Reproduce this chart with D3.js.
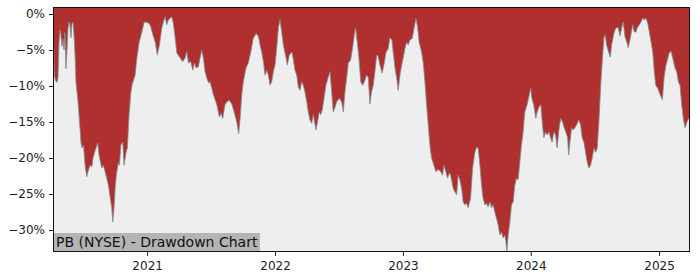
<!DOCTYPE html>
<html>
<head>
<meta charset="utf-8">
<script src="https://cdn.jsdelivr.net/npm/d3@7"></script>
<style>
  body { margin: 0; background: #fff; }
  svg { display: block; font-family: "DejaVu Sans", sans-serif; }
</style>
</head>
<body>
<div id="chart"></div>
<script>
// dates as decimal years, values as drawdown in percent
const years = [
  2020.266, 2020.277, 2020.285, 2020.297, 2020.305, 2020.313, 2020.320, 2020.328, 2020.336, 2020.344,
  2020.352, 2020.359, 2020.367, 2020.375, 2020.383, 2020.391, 2020.398, 2020.406, 2020.414, 2020.422,
  2020.430, 2020.438, 2020.445, 2020.461, 2020.477, 2020.484, 2020.492, 2020.504, 2020.516, 2020.529,
  2020.539, 2020.555, 2020.570, 2020.578, 2020.594, 2020.615, 2020.625, 2020.646, 2020.659, 2020.672,
  2020.685, 2020.698, 2020.711, 2020.724, 2020.732, 2020.742, 2020.752, 2020.763, 2020.776, 2020.784,
  2020.795, 2020.810, 2020.820, 2020.836, 2020.846, 2020.859, 2020.873, 2020.883, 2020.906, 2020.920,
  2020.938, 2020.959, 2020.977, 2021.000, 2021.016, 2021.029, 2021.045, 2021.063, 2021.080, 2021.096,
  2021.115, 2021.127, 2021.141, 2021.154, 2021.166, 2021.180, 2021.193, 2021.205, 2021.219, 2021.232,
  2021.258, 2021.279, 2021.297, 2021.310, 2021.323, 2021.341, 2021.357, 2021.370, 2021.383, 2021.401,
  2021.414, 2021.427, 2021.440, 2021.453, 2021.466, 2021.482, 2021.492, 2021.518, 2021.545, 2021.565,
  2021.578, 2021.591, 2021.609, 2021.623, 2021.643, 2021.662, 2021.680, 2021.701, 2021.716, 2021.727,
  2021.740, 2021.752, 2021.773, 2021.791, 2021.810, 2021.830, 2021.852, 2021.870, 2021.883, 2021.896,
  2021.909, 2021.922, 2021.935, 2021.948, 2021.961, 2021.974, 2021.987, 2022.000, 2022.013, 2022.026,
  2022.039, 2022.052, 2022.065, 2022.086, 2022.096, 2022.112, 2022.133, 2022.141, 2022.156, 2022.170,
  2022.182, 2022.195, 2022.209, 2022.221, 2022.234, 2022.248, 2022.260, 2022.273, 2022.287, 2022.299,
  2022.313, 2022.320, 2022.330, 2022.346, 2022.357, 2022.370, 2022.383, 2022.398, 2022.416, 2022.430,
  2022.443, 2022.455, 2022.469, 2022.482, 2022.502, 2022.521, 2022.534, 2022.547, 2022.560, 2022.573,
  2022.591, 2022.607, 2022.620, 2022.630, 2022.643, 2022.656, 2022.670, 2022.685, 2022.703, 2022.716,
  2022.729, 2022.742, 2022.755, 2022.768, 2022.781, 2022.795, 2022.807, 2022.820, 2022.838, 2022.854,
  2022.867, 2022.885, 2022.898, 2022.914, 2022.924, 2022.938, 2022.951, 2022.963, 2022.977, 2022.990,
  2023.002, 2023.016, 2023.029, 2023.041, 2023.055, 2023.073, 2023.088, 2023.102, 2023.115, 2023.127,
  2023.146, 2023.159, 2023.172, 2023.185, 2023.198, 2023.211, 2023.224, 2023.242, 2023.258, 2023.276,
  2023.295, 2023.310, 2023.320, 2023.336, 2023.349, 2023.362, 2023.373, 2023.393, 2023.406, 2023.420,
  2023.432, 2023.445, 2023.459, 2023.471, 2023.484, 2023.498, 2023.510, 2023.529, 2023.545, 2023.563,
  2023.576, 2023.588, 2023.602, 2023.615, 2023.627, 2023.641, 2023.654, 2023.666, 2023.680, 2023.693,
  2023.705, 2023.719, 2023.732, 2023.745, 2023.758, 2023.771, 2023.784, 2023.797, 2023.805, 2023.813,
  2023.823, 2023.836, 2023.849, 2023.862, 2023.875, 2023.888, 2023.901, 2023.914, 2023.927, 2023.940,
  2023.953, 2023.971, 2023.987, 2024.000, 2024.008, 2024.023, 2024.039, 2024.049, 2024.065, 2024.078,
  2024.091, 2024.102, 2024.115, 2024.127, 2024.141, 2024.154, 2024.166, 2024.180, 2024.193, 2024.205,
  2024.221, 2024.234, 2024.248, 2024.260, 2024.273, 2024.287, 2024.295, 2024.305, 2024.318, 2024.330,
  2024.344, 2024.357, 2024.375, 2024.388, 2024.401, 2024.414, 2024.427, 2024.440, 2024.453, 2024.466,
  2024.479, 2024.492, 2024.505, 2024.518, 2024.531, 2024.545, 2024.557, 2024.570, 2024.580, 2024.591,
  2024.607, 2024.620, 2024.630, 2024.648, 2024.664, 2024.682, 2024.695, 2024.709, 2024.721, 2024.734,
  2024.748, 2024.760, 2024.773, 2024.787, 2024.795, 2024.807, 2024.820, 2024.830, 2024.846, 2024.859,
  2024.873, 2024.885, 2024.898, 2024.912, 2024.924, 2024.938, 2024.951, 2024.963, 2024.974, 2024.990,
  2025.008, 2025.026, 2025.039, 2025.052, 2025.065, 2025.080, 2025.094, 2025.107, 2025.125, 2025.138,
  2025.151, 2025.164, 2025.177, 2025.190, 2025.203, 2025.216, 2025.232, 2025.242
];
const drawdown = [
  -1.3, -8.5, -9.2, -9.5, -8.8, -4.0, -2.2, -3.0, -4.5, -3.5,
  -5.0, -2.6, -7.6, -5.0, -2.0, -1.1, -1.5, -3.3, -1.3, -1.2,
  -3.0, -5.7, -9.4, -12.2, -16.0, -17.8, -18.6, -18.2, -21.0, -22.6,
  -21.9, -21.0, -21.2, -20.0, -19.0, -17.9, -19.6, -21.4, -21.0, -21.9,
  -22.8, -23.8, -25.4, -26.9, -28.9, -26.9, -23.8, -22.0, -20.6, -21.0,
  -18.2, -17.8, -21.0, -19.2, -18.6, -14.0, -10.9, -9.8, -8.5, -6.1,
  -3.9, -2.5, -1.1, -1.2, -1.3, -1.8, -2.9, -3.9, -5.7, -4.3,
  -1.9, -1.1, -0.4, -1.5, -0.8, -0.6, -0.4, -1.3, -3.3, -5.4,
  -6.1, -6.6, -6.1, -5.2, -6.8, -6.6, -7.8, -6.8, -7.5, -7.3,
  -6.1, -5.0, -6.1, -8.0, -8.9, -9.6, -9.4, -11.2, -12.6, -14.3,
  -13.8, -14.5, -12.6, -12.2, -12.0, -12.5, -13.6, -15.0, -16.6, -14.5,
  -11.2, -9.4, -7.5, -6.8, -5.3, -3.4, -2.7, -3.1, -4.3, -5.3,
  -6.6, -8.5, -7.8, -8.5, -9.9, -9.4, -8.0, -7.1, -4.8, -1.9,
  -0.8, -2.5, -4.3, -6.1, -7.1, -5.7, -5.3, -6.1, -7.8, -8.5,
  -10.1, -10.6, -9.4, -9.9, -10.8, -12.2, -13.6, -14.7, -15.2, -14.0,
  -15.4, -16.1, -15.2, -13.6, -14.0, -13.3, -11.7, -9.9, -8.8, -8.0,
  -10.8, -13.6, -13.0, -12.2, -11.7, -12.2, -13.6, -10.8, -8.9, -6.8,
  -6.4, -4.7, -2.9, -1.9, -3.9, -6.1, -9.4, -9.9, -9.2, -8.5,
  -8.8, -12.5, -10.8, -9.9, -8.0, -5.7, -5.9, -7.1, -8.2, -6.8,
  -5.4, -4.8, -3.3, -3.6, -5.3, -7.5, -8.9, -10.6, -8.5, -7.1,
  -6.1, -4.8, -3.9, -4.3, -3.6, -3.4, -1.9, -0.6, -1.9, -3.9,
  -5.3, -6.8, -9.4, -12.6, -15.4, -18.2, -20.0, -21.0, -21.9, -21.6,
  -21.9, -22.4, -21.0, -21.9, -22.8, -22.1, -22.4, -24.2, -24.7, -25.1,
  -22.4, -23.0, -24.2, -26.1, -26.5, -26.3, -26.9, -25.6, -21.4, -19.2,
  -18.5, -18.6, -21.0, -23.8, -25.6, -26.5, -26.3, -26.8, -26.1, -26.9,
  -26.5, -27.5, -28.4, -29.3, -30.7, -30.3, -31.1, -30.7, -31.6, -33.0,
  -30.7, -28.9, -26.5, -26.1, -23.8, -22.8, -23.0, -20.6, -18.2, -16.4,
  -13.6, -12.6, -11.3, -10.3, -11.7, -12.6, -14.5, -13.6, -12.9, -12.6,
  -15.4, -17.2, -16.4, -16.8, -16.4, -17.2, -17.8, -16.4, -16.8, -18.6,
  -15.8, -14.5, -15.0, -15.8, -16.4, -17.2, -19.6, -17.8, -15.8, -16.1,
  -15.8, -15.4, -14.7, -15.4, -17.2, -17.8, -19.2, -20.6, -21.4, -21.0,
  -20.0, -18.6, -19.2, -18.6, -15.0, -9.9, -6.6, -3.3, -2.9, -4.3,
  -5.3, -6.0, -4.3, -2.7, -1.9, -1.9, -3.1, -1.9, -1.1, -3.1,
  -3.9, -4.7, -3.6, -2.2, -1.5, -2.5, -2.5, -1.9, -1.5, -1.1,
  -0.6, -0.8, -0.6, -1.3, -2.5, -3.9, -5.3, -8.0, -9.9, -10.3,
  -11.2, -11.9, -8.9, -7.3, -6.4, -5.4, -5.2, -6.1, -7.5, -8.0,
  -9.4, -9.9, -12.6, -14.5, -15.8, -15.1, -14.5, -14.3
];
const yTicks = [0, -5, -10, -15, -20, -25, -30];
const title = 'PB (NYSE) - Drawdown Chart';

// decimal year -> Date
function toDate(t) {
    const y = Math.floor(t);
    const a = Date.UTC(y, 0, 1), b = Date.UTC(y + 1, 0, 1);
    return new Date(a + (t - y) * (b - a));
}
const data = years.map((t, i) => ({ date: toDate(t), value: drawdown[i] }));

const width = 700, height = 280;
const margin = { top: 7, right: 10, bottom: 28, left: 53 };
const innerW = width - margin.left - margin.right;
const innerH = height - margin.top - margin.bottom;

const x = d3.scaleUtc()
    .domain(d3.extent(data, d => d.date))
    .range([0, innerW]);
const y = d3.scaleLinear()
    .domain([-33.06, 0.97])
    .range([innerH, 0]);

const svg = d3.select('#chart').append('svg')
    .attr('width', width)
    .attr('height', height);

const g = svg.append('g')
    .attr('transform', `translate(${margin.left},${margin.top})`);

g.append('clipPath').attr('id', 'clip')
    .append('rect').attr('width', innerW).attr('height', innerH);

// plot background
g.append('rect')
    .attr('width', innerW)
    .attr('height', innerH)
    .attr('fill', '#eeeeee');

// red area from the top of the axes down to the drawdown
const area = d3.area()
    .x(d => x(d.date))
    .y0(0)
    .y1(d => y(d.value));

g.append('path')
    .datum(data)
    .attr('clip-path', 'url(#clip)')
    .attr('fill', '#b03030')
    .attr('d', area);

g.append('path')
    .datum(data)
    .attr('clip-path', 'url(#clip)')
    .attr('fill', 'none')
    .attr('stroke', '#7f8c8d')
    .attr('stroke-width', 1)
    .attr('stroke-opacity', 0.8)
    .attr('d', d3.line().x(d => x(d.date)).y(d => y(d.value)));

// title box
const label = g.append('g').attr('transform', `translate(0,${innerH})`);
const txt = label.append('text')
    .attr('x', 3)
    .attr('y', -5)
    .attr('font-size', 14)
    .attr('fill', '#111')
    .text(title);
const bb = txt.node().getBBox();
label.insert('rect', 'text')
    .attr('x', 0)
    .attr('y', -19)
    .attr('width', bb.x + bb.width + 2)
    .attr('height', 19)
    .attr('fill', '#b4b4b4');

// axes
const fmt = d => (d < 0 ? '\u2212' : '') + Math.abs(d) + '%';
const yAxis = g.append('g')
    .call(d3.axisLeft(y).tickValues(yTicks).tickFormat(fmt).tickSize(4).tickPadding(4));
const xAxis = g.append('g')
    .attr('transform', `translate(0,${innerH})`)
    .call(d3.axisBottom(x).ticks(d3.utcYear.every(1)).tickFormat(d3.utcFormat('%Y')).tickSize(4).tickPadding(5));

[yAxis, xAxis].forEach(a => {
    a.select('.domain').remove();
    a.selectAll('text').attr('font-size', 12).attr('fill', '#222')
        .attr('font-family', '"DejaVu Sans", sans-serif');
    a.selectAll('line').attr('stroke', '#222');
});

// frame
g.append('rect')
    .attr('x', 0.5)
    .attr('y', 0.5)
    .attr('width', innerW - 1)
    .attr('height', innerH - 1)
    .attr('fill', 'none')
    .attr('stroke', '#111')
    .attr('stroke-width', 1);
</script>
</body>
</html>
